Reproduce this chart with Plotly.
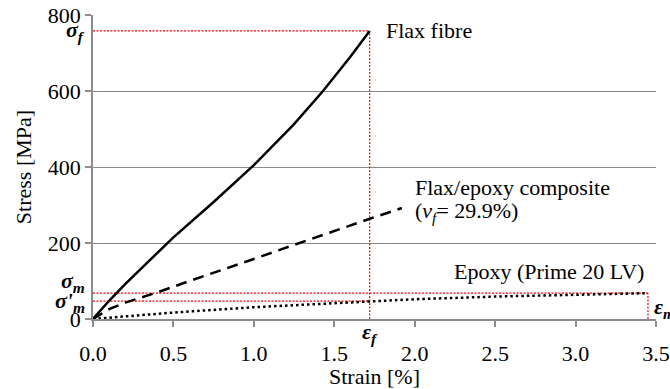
import plotly.graph_objects as go

# ---- data ----
flax_strain = [0.0, 0.05, 0.1, 0.2, 0.3, 0.5, 0.75, 1.0, 1.25, 1.43, 1.6, 1.72]
flax_stress = [0, 25, 48, 92, 133, 215, 308, 405, 513, 600, 690, 758]

comp_strain = [0.0, 0.05, 0.1, 0.2, 0.4, 0.6, 0.8, 1.0, 1.25, 1.5, 1.75, 1.92]
comp_stress = [0, 14, 26, 43, 70, 100, 130, 158, 195, 232, 268, 292]

epoxy_strain = [0.0, 0.25, 0.5, 1.0, 1.5, 1.72, 2.0, 2.5, 3.0, 3.45]
epoxy_stress = [0, 9, 17, 31, 42, 47, 52, 59, 64, 68]

sigma_f = 758
eps_f = 1.72
sigma_m = 68
sigma_m_prime = 47
eps_m = 3.45

x_ticks = [0.0, 0.5, 1.0, 1.5, 2.0, 2.5, 3.0, 3.5]
x_tick_labels = ["0.0", "0.5", "1.0", "1.5", "2.0", "2.5", "3.0", "3.5"]
y_ticks = [0, 200, 400, 600, 800]
y_tick_labels = ["0", "200", "400", "600", "800"]

FONT = "Liberation Serif"
FS = 22
RED = "#ff0000"
GREY = "#8c8c8c"

fig = go.Figure()

# red guide lines
guides = [
    ([0, eps_f], [sigma_f, sigma_f]),
    ([eps_f, eps_f], [0, sigma_f]),
    ([0, eps_m], [sigma_m, sigma_m]),
    ([eps_m, eps_m], [0, sigma_m]),
    ([0, eps_f], [sigma_m_prime, sigma_m_prime]),
]
for gx, gy in guides:
    fig.add_trace(go.Scatter(x=gx, y=gy, mode="lines",
                             line=dict(color=RED, width=1.2, dash="2px,1.5px"),
                             showlegend=False, hoverinfo="skip"))

fig.add_trace(go.Scatter(x=epoxy_strain, y=epoxy_stress, mode="lines",
                         line=dict(color="black", width=2.5, dash="2.5px,3px"),
                         showlegend=False))
fig.add_trace(go.Scatter(x=comp_strain, y=comp_stress, mode="lines",
                         line=dict(color="black", width=2.5, dash="11px,7px"),
                         showlegend=False))
fig.add_trace(go.Scatter(x=flax_strain, y=flax_stress, mode="lines",
                         line=dict(color="black", width=2.5),
                         showlegend=False))

ann_font = dict(family=FONT, size=FS, color="black")
annotations = [
    dict(x=1.81, y=758, text="Flax fibre", xanchor="left", yanchor="middle"),
    dict(x=1.99, y=346, text="Flax/epoxy composite", xanchor="left", yanchor="middle"),
    dict(x=1.99, y=281, text="(<i>v<sub>f</sub></i>= 29.9%)", xanchor="left", yanchor="middle"),
    dict(x=2.23, y=124, text="Epoxy (Prime 20 LV)", xanchor="left", yanchor="middle"),
]
for a in annotations:
    fig.add_annotation(xref="x", yref="y", showarrow=False, font=ann_font, **a)

greek_font = dict(family=FONT, size=FS, color="black")
greek = [
    dict(x=0, y=sigma_f, xshift=-6, yshift=0, text="<b><i>σ<sub>f</sub></i></b>",
         xanchor="right", yanchor="middle"),
    dict(x=0, y=sigma_m, xshift=-6, yshift=11, text="<b><i>σ<sub>m</sub></i></b>",
         xanchor="right", yanchor="middle"),
    dict(x=0, y=sigma_m_prime, xshift=-6, yshift=-1, text="<b><i>σ'<sub>m</sub></i></b>",
         xanchor="right", yanchor="middle"),
    dict(x=eps_f, y=0, xshift=0, yshift=-14, text="<b><i>ε<sub>f</sub></i></b>",
         xanchor="center", yanchor="middle"),
    dict(x=eps_m, y=sigma_m, xshift=4, yshift=-15, text="<b><i>ε<sub>m</sub></i></b>",
         xanchor="left", yanchor="middle"),
]
for g in greek:
    fig.add_annotation(xref="x", yref="y", showarrow=False, font=greek_font, **g)

fig.update_layout(
    width=670, height=389,
    margin=dict(l=93, r=14, t=15, b=70),
    paper_bgcolor="white", plot_bgcolor="white",
    font=dict(family=FONT, size=FS, color="black"),
    showlegend=False,
)
fig.update_xaxes(
    range=[0, 3.5], tickvals=x_ticks, ticktext=x_tick_labels,
    showgrid=False, zeroline=False, automargin=False,
    showline=True, linecolor=GREY, linewidth=1.5,
    ticks="outside", ticklen=6, tickcolor=GREY, tickwidth=1.5,
    ticklabelstandoff=8,
    tickfont=dict(family=FONT, size=FS, color="black"),
    title=dict(text="Strain [%]", font=dict(family=FONT, size=FS, color="black"), standoff=4),
)
fig.update_yaxes(
    range=[0, 800], tickvals=y_ticks, ticktext=y_tick_labels,
    showgrid=True, gridcolor=GREY, gridwidth=1.2,
    zeroline=False, automargin=False,
    showline=True, linecolor=GREY, linewidth=1.5,
    ticks="outside", ticklen=6, tickcolor=GREY, tickwidth=1.5,
    tickfont=dict(family=FONT, size=FS, color="black"),
    title=dict(text="Stress [MPa]", font=dict(family=FONT, size=FS, color="black"), standoff=10),
)

fig.write_html("out.html", config={"displayModeBar": False},
               post_script="document.body.style.margin='0';document.body.style.padding='0';")
